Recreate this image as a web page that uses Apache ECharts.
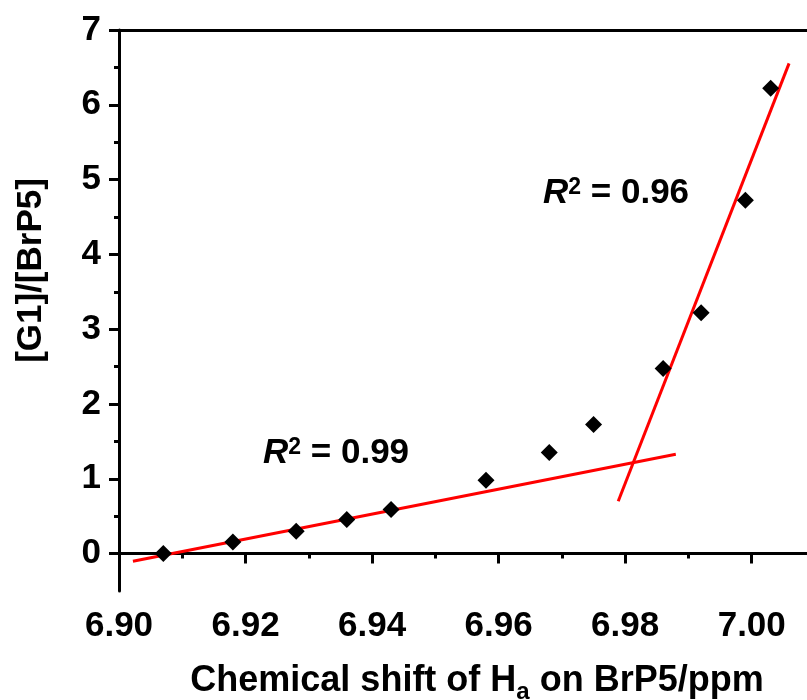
<!DOCTYPE html>
<html>
<head>
<meta charset="utf-8">
<script src="https://cdn.jsdelivr.net/npm/echarts@6/dist/echarts.min.js"></script>
<style>
  html, body { margin: 0; padding: 0; background: #fff; }
  #main { width: 807px; height: 700px; }
</style>
</head>
<body>
<div id="main"></div>
<script>
// measured points
var shiftX = [6.907, 6.918, 6.928, 6.936, 6.943, 6.958, 6.968, 6.975, 6.986, 6.992, 6.999, 7.003];
var ratioY = [0.0, 0.155, 0.30, 0.455, 0.59, 0.98, 1.35, 1.725, 2.475, 3.22, 4.725, 6.22];

// the two linear fits (end points)
var fitLowX = [6.9022, 6.988];
var fitLowY = [-0.103, 1.328];
var fitHighX = [6.9789, 7.0059];
var fitHighY = [0.70, 6.554];

// ticks
var xTicks = [6.90, 6.92, 6.94, 6.96, 6.98, 7.00];
var xMinor = [6.91, 6.93, 6.95, 6.97, 6.99];
var yTicks = [0, 1, 2, 3, 4, 5, 6, 7];
var yMinor = [0.5, 1.5, 2.5, 3.5, 4.5, 5.5, 6.5];

var FONT = 'Liberation Sans';

function pairs(xs, ys) {
    return xs.map(function (x, i) { return [x, ys[i]]; });
}

var chart = echarts.init(document.getElementById('main'));

var lineStyleAxis = { color: '#000', width: 3 };

var r2Rich = {
    i: { fontFamily: FONT, fontWeight: 'bold', fontStyle: 'italic', fontSize: 35, fill: '#000' },
    sup: { fontFamily: FONT, fontWeight: 'bold', fontSize: 23, fill: '#000', verticalAlign: 'top' },
    n: { fontFamily: FONT, fontWeight: 'bold', fontSize: 35, fill: '#000' }
};

var option = {
    animation: false,
    backgroundColor: '#fff',
    grid: { left: 119, right: -8, top: 30, bottom: 109, containLabel: false, outerBoundsMode: 'none' },
    xAxis: [
        {
            type: 'value', position: 'bottom', min: 6.90, max: 7.01,
            name: 'Chemical shift of H{sub|a} on BrP5/ppm',
            nameLocation: 'middle', nameGap: 67,
            nameTextStyle: {
                fontFamily: FONT, fontWeight: 'bold', fontSize: 36, color: '#000',
                padding: [0, 0, 0, 20],
                rich: {
                    sub: { fontFamily: FONT, fontWeight: 'bold', fontSize: 24, color: '#000', padding: [22, 0, 0, 0] }
                }
            },
            splitLine: { show: false },
            axisLine: { lineStyle: lineStyleAxis },
            axisTick: { show: true, inside: false, length: 10, lineStyle: lineStyleAxis, customValues: xTicks },
            axisLabel: {
                customValues: xTicks, margin: 18,
                fontFamily: FONT, fontWeight: 'bold', fontSize: 35, color: '#000',
                formatter: function (v) { return v.toFixed(2); }
            }
        },
        {
            type: 'value', position: 'bottom', min: 6.90, max: 7.01,
            splitLine: { show: false },
            axisLine: { show: false },
            axisTick: { show: true, inside: false, length: 5, lineStyle: lineStyleAxis, customValues: xMinor },
            axisLabel: { show: false }
        },
        {
            type: 'value', position: 'top', min: 6.90, max: 7.01,
            splitLine: { show: false },
            axisLine: { lineStyle: lineStyleAxis },
            axisTick: { show: false },
            axisLabel: { show: false }
        }
    ],
    yAxis: [
        {
            type: 'value', position: 'left', min: -0.5, max: 7,
            name: '[G1]/[BrP5]',
            nameLocation: 'middle', nameGap: 70,
            nameTextStyle: {
                fontFamily: FONT, fontWeight: 'bold', fontSize: 35, color: '#000',
                padding: [0, 0, 0, 80]
            },
            splitLine: { show: false },
            axisLine: { lineStyle: lineStyleAxis },
            axisTick: { show: true, inside: false, length: 10, lineStyle: lineStyleAxis, customValues: yTicks },
            axisLabel: {
                customValues: yTicks, margin: 18,
                fontFamily: FONT, fontWeight: 'bold', fontSize: 35, color: '#000'
            }
        },
        {
            type: 'value', position: 'left', min: -0.5, max: 7,
            splitLine: { show: false },
            axisLine: { show: false },
            axisTick: { show: true, inside: false, length: 5, lineStyle: lineStyleAxis, customValues: yMinor },
            axisLabel: { show: false }
        }
    ],
    graphic: [
        {
            type: 'text', left: 263, top: 436,
            style: { text: '{i|R}{sup|2}{n| = 0.99}', fill: '#000', rich: r2Rich }
        },
        {
            type: 'text', left: 543, top: 176,
            style: { text: '{i|R}{sup|2}{n| = 0.96}', fill: '#000', rich: r2Rich }
        }
    ],
    series: [
        {
            type: 'line', xAxisIndex: 0, yAxisIndex: 0,
            data: pairs(fitLowX, fitLowY),
            showSymbol: false, symbol: 'none',
            lineStyle: { color: '#ff0000', width: 3 },
            z: 2
        },
        {
            type: 'line', xAxisIndex: 0, yAxisIndex: 0,
            data: pairs(fitHighX, fitHighY),
            showSymbol: false, symbol: 'none',
            lineStyle: { color: '#ff0000', width: 3 },
            z: 2
        },
        {
            type: 'scatter', xAxisIndex: 0, yAxisIndex: 0,
            data: pairs(shiftX, ratioY),
            symbol: 'diamond', symbolSize: 17,
            itemStyle: { color: '#000', opacity: 1 },
            z: 3
        }
    ]
};

chart.setOption(option);
</script>
</body>
</html>
